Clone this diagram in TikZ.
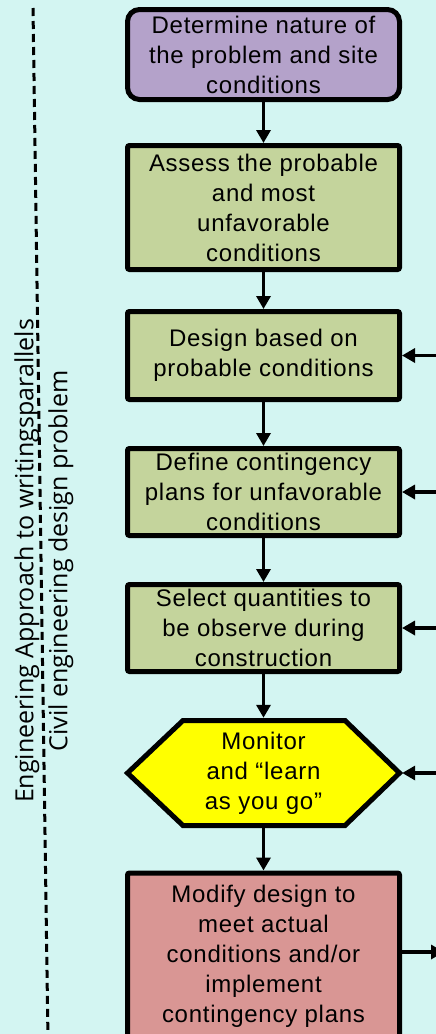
\documentclass[tikz,border=0pt]{standalone}
\usepackage{fontspec}
\setmainfont[LetterSpace=3]{Liberation Sans}
\newfontfamily\sidefont{Open Sans}
\usetikzlibrary{arrows.meta}
\definecolor{bgc}{HTML}{D3F5F2}
\definecolor{purp}{HTML}{B4A2CA}
\definecolor{grn}{HTML}{C4D49C}
\definecolor{redc}{HTML}{D99694}
\definecolor{yel}{HTML}{FFFF00}
\tikzset{
  box/.style={draw=black, line width=5pt, minimum width=272pt, align=center, inner sep=0pt,
    font=\fontsize{24}{30}\selectfont},
  conn/.style={line width=3.5pt, -{Triangle[length=13pt,width=14pt]}},
}
\begin{document}
\begin{tikzpicture}[x=1pt,y=-1pt]
\useasboundingbox (0,0) rectangle (436,1034);
\fill[bgc] (0,0) rectangle (436,1034);
% dashed separator
\coordinate (dtop) at (33,8);
\coordinate (dbot) at (48,1040);
\draw[line width=3pt, dash pattern=on 8pt off 5pt] (dtop) -- (dbot);
% side text
\node[rotate=90, align=center, font=\sidefont\fontsize{25}{34}\selectfont, inner sep=0pt] (side) at (44,561)
  {Engineering Approach to writingsparallels\\Civil engineering design problem};
% boxes
\node[box, fill=purp, rounded corners=12pt, minimum height=90pt] (b1) at (263.5,54.5)
  {Determine nature of\\the problem and site\\conditions};
\node[box, fill=grn, rounded corners=2pt, minimum height=124pt] (b2) at (263.5,207.5)
  {Assess the probable\\and most\\unfavorable\\conditions};
\node[box, fill=grn, rounded corners=2pt, minimum height=88pt] (b3) at (263.5,355.5)
  {Design based on\\probable conditions};
\node[box, fill=grn, rounded corners=2pt, minimum height=87pt] (b4) at (263.5,492)
  {Define contingency\\plans for unfavorable\\conditions};
\node[box, fill=grn, rounded corners=2pt, minimum height=87pt] (b5) at (263.5,628)
  {Select quantities to\\be observe during\\construction};
% hexagon
\draw[line width=5pt, fill=yel, line join=miter] (127.5,773) -- (183,720.5) -- (345,720.5) -- (399.5,773) -- (345,825.5) -- (183,825.5) -- cycle;
\node[align=center, inner sep=0pt, font=\fontsize{24}{30}\selectfont, minimum width=277pt, minimum height=110pt] (hex) at (263.5,773)
  {Monitor\\and \char"201Clearn\\as you go\char"201D};
\node[box, fill=redc, rounded corners=2pt, minimum height=170pt, anchor=north] (b7) at (263.5,870.5) {};
\node[align=center, inner sep=0pt, font=\fontsize{24}{30}\selectfont, anchor=north] (b7t) at (263.5,884.5)
  {Modify design to\\meet actual\\conditions and/or\\implement\\contingency plans};
% vertical connectors
\draw[conn] (b1.south) -- (b2.north);
\draw[conn] (b2.south) -- (b3.north);
\draw[conn] (b3.south) -- (b4.north);
\draw[conn] (b4.south) -- (b5.north);
\draw[conn] (b5.south) -- (hex.north);
\draw[conn] (hex.south) -- (b7.north);
% right side inputs
\coordinate (r3) at (437,355.5);
\coordinate (r4) at (437,492);
\coordinate (r5) at (437,628);
\coordinate (r6) at (437,773);
\coordinate (r7) at (444,952);
\draw[conn] (r3) -- (b3.east);
\draw[conn] (r4) -- (b4.east);
\draw[conn] (r5) -- (b5.east);
\draw[conn] (r6) -- (hex.east);
\draw[conn] (b7.east |- r7) -- (r7);
\end{tikzpicture}
\end{document}
